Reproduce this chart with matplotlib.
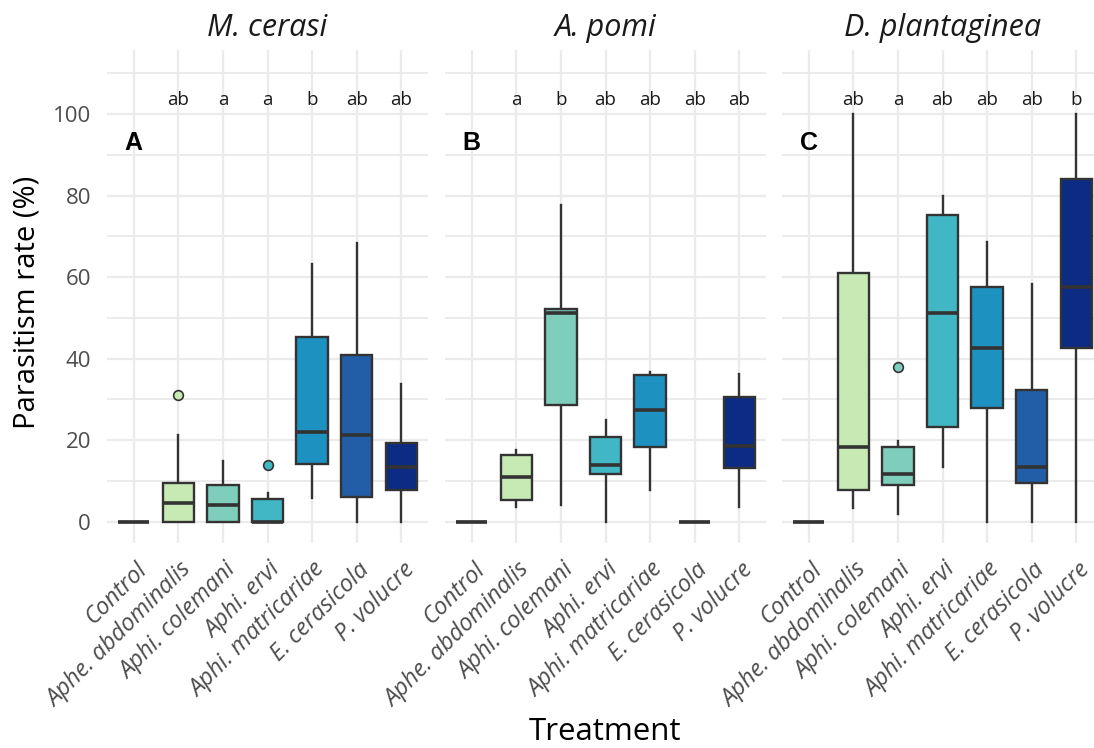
import matplotlib
matplotlib.use("Agg")
import matplotlib.pyplot as plt
import matplotlib.transforms as mtransforms

treatments = ["Control", "Aphe. abdominalis", "Aphi. colemani", "Aphi. ervi",
              "Aphi. matricariae", "E. cerasicola", "P. volucre"]
panels = ["M. cerasi", "A. pomi", "D. plantaginea"]
panel_tags = ["A", "B", "C"]
colors = ["#ffffd9", "#c7e9b4", "#7fcdbb", "#41b6c4", "#1d91c0", "#225ea8", "#0c2c84"]

# M. cerasi
mc_whislo = [0, 0, 0, 0, 5.9, 0, 0]
mc_q1 = [0, 0, 0, 0, 14.2, 6.0, 7.9]
mc_med = [0, 4.5, 4.2, 0, 22.0, 21.2, 13.5]
mc_q3 = [0, 9.6, 9.0, 5.5, 45.2, 41.0, 19.4]
mc_whishi = [0, 21.4, 14.9, 7.1, 63.1, 68.4, 33.7]
mc_out = [[], [31.0], [], [14.0], [], [], []]
mc_letters = ["", "ab", "a", "a", "b", "ab", "ab"]

# A. pomi
ap_whislo = [0, 3.7, 4.0, 0, 7.7, 0, 3.7]
ap_q1 = [0, 5.3, 28.6, 11.6, 18.4, 0, 13.2]
ap_med = [0, 10.9, 51.1, 13.9, 27.3, 0, 18.5]
ap_q3 = [0, 16.3, 52.2, 20.8, 36.1, 0, 30.6]
ap_whishi = [0, 17.6, 77.6, 24.9, 36.8, 0, 36.3]
ap_out = [[], [], [], [], [], [], []]
ap_letters = ["", "a", "b", "ab", "ab", "ab", "ab"]

# D. plantaginea
dp_whislo = [0, 3.4, 2.0, 13.5, 0, 0, 0]
dp_q1 = [0, 7.9, 9.1, 23.3, 27.8, 9.6, 42.6]
dp_med = [0, 18.3, 11.6, 51.1, 42.6, 13.5, 57.6]
dp_q3 = [0, 61.0, 18.4, 75.3, 57.7, 32.3, 84.1]
dp_whishi = [0, 100, 19.9, 79.8, 68.6, 58.2, 100]
dp_out = [[], [], [38.0], [], [], [], []]
dp_letters = ["", "ab", "a", "ab", "ab", "ab", "b"]

data = [
    (mc_whislo, mc_q1, mc_med, mc_q3, mc_whishi, mc_out, mc_letters),
    (ap_whislo, ap_q1, ap_med, ap_q3, ap_whishi, ap_out, ap_letters),
    (dp_whislo, dp_q1, dp_med, dp_q3, dp_whishi, dp_out, dp_letters),
]

plt.rcParams["font.family"] = ["Open Sans", "DejaVu Sans"]
W, H = 1094, 748
fig = plt.figure(figsize=(W / 100, H / 100), dpi=100)

lefts = [107, 445, 782]
pw = 321
top_px, bot_px = 50, 543
dark = "#333333"
grid_c = "#ebebeb"

for i, (wl, q1, med, q3, wh, outs, letters) in enumerate(data):
    ax = fig.add_axes([lefts[i] / W, 1 - bot_px / H, pw / W, (bot_px - top_px) / H])
    pos = list(range(1, len(treatments) + 1))
    stats = []
    for j in range(len(treatments)):
        stats.append(dict(whislo=wl[j], q1=q1[j], med=med[j], q3=q3[j],
                          whishi=wh[j], fliers=outs[j], label=treatments[j]))
    bp = ax.bxp(stats, positions=pos, widths=0.7, patch_artist=True,
                showcaps=False, showfliers=True,
                boxprops=dict(edgecolor=dark, linewidth=1.7),
                whiskerprops=dict(color=dark, linewidth=1.7),
                medianprops=dict(color=dark, linewidth=2.6, solid_capstyle="butt"),
                flierprops=dict(marker="o", markersize=7, markeredgecolor=dark,
                                markeredgewidth=1.2))
    for j, b in enumerate(bp["boxes"]):
        b.set_facecolor(colors[j])
        b.set_zorder(3)
    for j, f in enumerate(bp["fliers"]):
        f.set_markerfacecolor(colors[j])
        f.set_zorder(4)
    for m in bp["medians"]:
        m.set_zorder(5)
    for w in bp["whiskers"]:
        w.set_zorder(2)

    ax.set_xlim(0.4, 7.6)
    ax.set_ylim(-5.2, 115.7)
    ax.set_yticks([0, 20, 40, 60, 80, 100])
    ax.set_yticks([10, 30, 50, 70, 90, 110], minor=True)
    ax.set_xticks(pos)
    ax.grid(True, which="major", color=grid_c, linewidth=1.6, zorder=0)
    ax.grid(True, which="minor", axis="y", color=grid_c, linewidth=1.4, zorder=0)
    ax.set_axisbelow(True)
    for s in ax.spines.values():
        s.set_visible(False)
    ax.tick_params(which="both", length=0)
    ax.tick_params(axis="y", labelsize=16, labelcolor="#4d4d4d", pad=11.5)
    if i > 0:
        ax.set_yticklabels([])
    ax.set_xticklabels(treatments, rotation=45, ha="right", va="top",
                       rotation_mode="anchor", fontsize=17, color="#4d4d4d",
                       style="italic")
    off = mtransforms.ScaledTranslation(1 / 100, -10 / 100, fig.dpi_scale_trans)
    for lab in ax.get_xticklabels():
        lab.set_transform(lab.get_transform() + off)

    for j, let in enumerate(letters):
        if let:
            ax.text(pos[j], 103.4, let, ha="center", va="center", fontsize=13.5,
                    color="#1a1a1a", zorder=6)
    ax.text(1, 92.8, panel_tags[i], ha="center", va="center", fontsize=18,
            fontweight="bold", family=["Liberation Sans", "DejaVu Sans"],
            color="black", zorder=6)
    ax.set_title(panels[i], style="italic", fontsize=22, color="#1a1a1a", pad=10)

fig.text(27 / W, 1 - 302 / H, "Parasitism rate (%)", rotation=90, ha="center",
         va="center", fontsize=21, color="black")
fig.text(605 / W, 1 - 732 / H, "Treatment", ha="center", va="center",
         fontsize=22.5, color="black")

fig.savefig("out.png", dpi=100)
